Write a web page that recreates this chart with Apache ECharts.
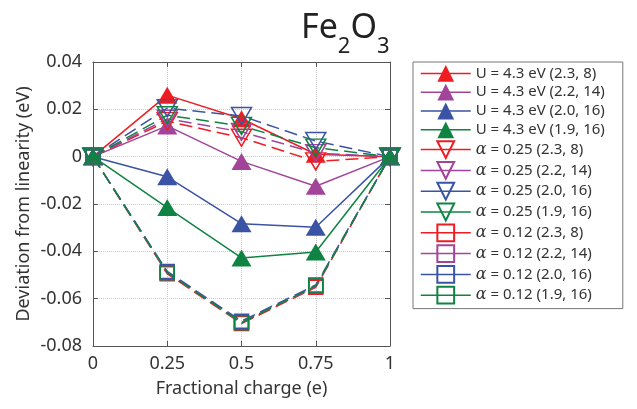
<!DOCTYPE html>
<html>
<head>
<meta charset="utf-8">
<script src="https://cdn.jsdelivr.net/npm/echarts@6/dist/echarts.min.js"></script>
<style>html,body{margin:0;padding:0;background:#fff}#c{width:637px;height:409px}</style>
</head>
<body>
<div id="c"></div>
<script>
// ---- data ----
var xValues = [0, 0.25, 0.5, 0.75, 1];
var xTickLabels = ['0', '0.25', '0.5', '0.75', '1'];
var yTickLabels = ['-0.08', '-0.06', '-0.04', '-0.02', '0', '0.02', '0.04'];

var U_23_8  = [0, 0.026, 0.016, 0.001, 0];
var U_22_14 = [0, 0.013, -0.002, -0.0125, 0];
var U_20_16 = [0, -0.0085, -0.0283, -0.0298, 0];
var U_19_16 = [0, -0.0215, -0.0428, -0.0403, 0];

var a25_23_8  = [0, 0.015, 0.008, -0.002, 0];
var a25_22_14 = [0, 0.016, 0.0105, 0.0015, 0];
var a25_20_16 = [0, 0.0205, 0.0172, 0.0066, 0];
var a25_19_16 = [0, 0.0175, 0.013, 0.0038, 0];

var a12_23_8  = [0, -0.0495, -0.0705, -0.0552, 0];
var a12_22_14 = [0, -0.049, -0.0700, -0.0548, 0];
var a12_20_16 = [0, -0.0485, -0.0695, -0.0542, 0];
var a12_19_16 = [0, -0.049, -0.0702, -0.0546, 0];

var seriesNames = [
  'U = 4.3 eV (2.3, 8)', 'U = 4.3 eV (2.2, 14)', 'U = 4.3 eV (2.0, 16)', 'U = 4.3 eV (1.9, 16)',
  'α = 0.25 (2.3, 8)', 'α = 0.25 (2.2, 14)', 'α = 0.25 (2.0, 16)', 'α = 0.25 (1.9, 16)',
  'α = 0.12 (2.3, 8)', 'α = 0.12 (2.2, 14)', 'α = 0.12 (2.0, 16)', 'α = 0.12 (1.9, 16)'
];
var seriesValues = [U_23_8, U_22_14, U_20_16, U_19_16, a25_23_8, a25_22_14, a25_20_16, a25_19_16, a12_23_8, a12_22_14, a12_20_16, a12_19_16];

// ---- styles ----
var colors = ['#ee1d23', '#a2449a', '#3a53a4', '#0f8442'];
var FONT = 'Noto Sans';
var TXT = '#333';

var series = seriesValues.map(function (vals, i) {
  var group = Math.floor(i / 4);
  var c = colors[i % 4];
  var s = {
    name: seriesNames[i],
    type: 'line',
    data: xValues.map(function (x, k) { return [x, vals[k]]; }),
    lineStyle: { color: c, width: 1.5, type: group === 0 ? 'solid' : [13, 6] },
    showSymbol: true,
    animation: false
  };
  if (group === 0) {
    s.symbol = 'triangle';
    s.symbolSize = [20, 17];
    s.itemStyle = { color: c };
  } else if (group === 1) {
    s.symbol = 'triangle';
    s.symbolRotate = 180;
    s.symbolSize = [20, 17];
    s.itemStyle = { color: 'rgba(255,255,255,0)', borderColor: c, borderWidth: 1.5 };
  } else {
    s.symbol = 'rect';
    s.symbolSize = 14;
    s.itemStyle = { color: 'rgba(255,255,255,0)', borderColor: c, borderWidth: 1.5 };
  }
  return s;
});

var yMin = -0.08, yMax = 0.04, yInt = 0.02;
var xMin = 0, xMax = 1, xInt = 0.25;

var chart = echarts.init(document.getElementById('c'), null, { renderer: 'canvas' });
chart.setOption({
  animation: false,
  textStyle: { fontFamily: FONT },
  title: {
    text: '{a|Fe}{b|2}{a|O}{b|3}',
    left: 296,
    top: 6,
    textStyle: {
      fontWeight: 'normal',
      rich: {
        a: { fontFamily: FONT, fontSize: 34, fontWeight: 'normal', color: '#222', verticalAlign: 'top', lineHeight: 40 },
        b: { fontFamily: FONT, fontSize: 22, fontWeight: 'normal', color: '#222', verticalAlign: 'top', lineHeight: 40, padding: [25, 0, 0, 0] }
      }
    }
  },
  grid: { left: 93, top: 62, right: 247, bottom: 63, containLabel: false },
  xAxis: [{
    type: 'value', min: xMin, max: xMax, interval: xInt, position: 'bottom',
    axisLine: { show: true, onZero: false, lineStyle: { color: '#555', width: 1 } },
    axisTick: { show: true, inside: true, length: 5, lineStyle: { color: '#555' } },
    splitLine: { show: true, lineStyle: { color: '#c8c8c8', type: 'dotted', width: 1 } },
    axisLabel: { fontSize: 18, color: TXT, margin: 9, fontFamily: FONT,
      formatter: function (v) { return xTickLabels[Math.round((v - xMin) / xInt)]; } },
    name: 'Fractional charge (e)', nameLocation: 'middle', nameGap: 34,
    nameTextStyle: { fontSize: 18, color: TXT, fontFamily: FONT }
  }, {
    type: 'value', min: xMin, max: xMax, interval: xInt, position: 'top',
    axisLine: { show: true, onZero: false, lineStyle: { color: '#555', width: 1 } },
    axisTick: { show: true, inside: true, length: 5, lineStyle: { color: '#555' } },
    axisLabel: { show: false }, splitLine: { show: false }
  }],
  yAxis: [{
    type: 'value', min: yMin, max: yMax, interval: yInt, position: 'left',
    axisLine: { show: true, onZero: false, lineStyle: { color: '#555', width: 1 } },
    axisTick: { show: true, inside: true, length: 5, lineStyle: { color: '#555' } },
    splitLine: { show: true, lineStyle: { color: '#c8c8c8', type: 'dotted', width: 1 } },
    axisLabel: { fontSize: 18, color: TXT, margin: 11, fontFamily: FONT,
      formatter: function (v) { return yTickLabels[Math.round((v - yMin) / yInt)]; } },
    name: 'Deviation from linearity (eV)', nameLocation: 'middle', nameGap: 60,
    nameTextStyle: { fontSize: 18, color: TXT, fontFamily: FONT }
  }, {
    type: 'value', min: yMin, max: yMax, interval: yInt, position: 'right',
    axisLine: { show: true, onZero: false, lineStyle: { color: '#555', width: 1 } },
    axisTick: { show: true, inside: true, length: 5, lineStyle: { color: '#555' } },
    axisLabel: { show: false }, splitLine: { show: false }
  }],
  legend: {
    orient: 'vertical',
    left: 413, top: 62,
    itemWidth: 50, itemHeight: 21, itemGap: 2,
    padding: [3, 18, 4, 7],
    borderColor: '#777', borderWidth: 1,
    lineStyle: { type: 'solid', width: 1.5 },
    textStyle: { fontSize: 15, color: TXT, fontFamily: FONT,
      rich: { a: { fontFamily: 'DejaVu Serif', fontStyle: 'italic', fontSize: 16, color: TXT } } },
    formatter: function (name) { return name.replace('α', '{a|α}'); },
    data: seriesNames
  },
  series: series
});
</script>
</body>
</html>
